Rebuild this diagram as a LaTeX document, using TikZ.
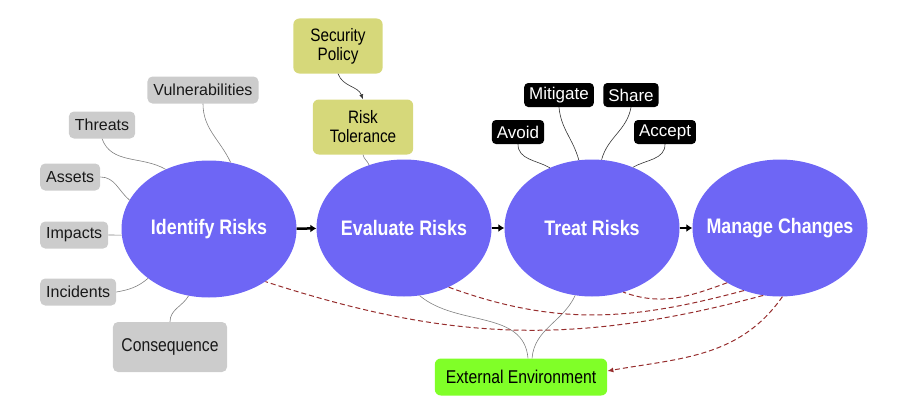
\documentclass[tikz,border=0pt]{standalone}
\usepackage{fontspec}
\setmainfont{Liberation Sans}
\newfontfamily\condfont{Liberation Sans}[FakeStretch=0.85]
\usetikzlibrary{shapes.geometric,arrows.meta}
\definecolor{riskblue}{RGB}{110,102,245}
\definecolor{boxgray}{RGB}{204,204,204}
\definecolor{polyellow}{RGB}{214,216,122}
\definecolor{envgreen}{RGB}{128,255,40}
\definecolor{linkred}{RGB}{150,45,45}

\begin{document}
\begin{tikzpicture}[x=1pt, y=1pt,
    stage/.style={ellipse, fill=riskblue, minimum width=175pt, minimum height=137pt, inner xsep=-20pt, inner ysep=0pt,
        text=white, font=\condfont\bfseries\fontsize{21}{23}\selectfont},
    factor/.style={rounded corners=5pt, fill=boxgray, inner xsep=6pt, minimum height=27pt,
        text=black!90, font=\fontsize{16}{18}\selectfont},
    policy/.style={rounded corners=6pt, fill=polyellow, align=center, inner xsep=17pt, minimum height=55pt,
        font=\condfont\fontsize{18}{19}\selectfont},
    choice/.style={rounded corners=4pt, fill=black, text=white, inner xsep=5pt, minimum height=24pt,
        font=\fontsize{17}{19}\selectfont},
    link/.style={black!50, line width=0.6pt},
    feedback/.style={linkred, line width=1pt, dash pattern=on 5pt off 3pt},
    flow/.style={line width=2.5pt, -{Latex[length=6pt,width=8pt]}}]
    \useasboundingbox (0,0) rectangle (901,408);

    \node[stage] (identify) at (209,179) {Identify Risks};
    \node[stage] (evaluate) at (404,180) {Evaluate Risks};
    \node[stage] (treat) at (592,180) {Treat Risks};
    \node[stage] (manage) at (780,180) {Manage Changes};

    \node[factor] (vuln) at (203,318) {Vulnerabilities};
    \node[factor] (threats) at (102,283) {Threats};
    \node[factor, anchor=west] (assets) at (40,231) {Assets};
    \node[factor, anchor=west] (impacts) at (40,173) {Impacts};
    \node[factor, anchor=west] (incidents) at (40,116) {Incidents};
    \node[factor, minimum height=50pt, inner xsep=8.5pt, font=\condfont\fontsize{18.5}{20}\selectfont]
        (conseq) at (170,61) {Consequence};

    \node[policy] (secpol) at (338,362) {Security\\Policy};
    \node[policy] (risktol) at (363,281) {Risk\\Tolerance};

    \node[choice] (avoid) at (518,276) {Avoid};
    \node[choice] (mitigate) at (559,313) {Mitigate};
    \node[choice] (share) at (631,313) {Share};
    \node[choice] (accept) at (665,276) {Accept};

    \node[rounded corners=6pt, fill=envgreen, inner xsep=11pt, minimum height=37pt,
        font=\condfont\fontsize{18.5}{20}\selectfont] (extenv) at (521,31) {External Environment};

    \draw[flow] (identify) -- (evaluate);
    \draw[flow] (evaluate) -- (treat);
    \draw[flow] (treat) -- (manage);

    \draw[link] (vuln.south) to[out=-90,in=115] (identify.72);
    \draw[link] (threats.south) to[out=-70,in=150] (identify.126);
    \draw[link] (assets.east) to[out=0,in=140] (identify.160);
    \draw[link] (impacts.east) -- (identify.184);
    \draw[link] (incidents.east) to[out=10,in=-140] (identify.219);
    \draw[link] (conseq.north) to[out=90,in=-120] (identify.253);

    \draw[link, black!80, -{Latex[length=5pt,width=4pt]}] (secpol.south) to[out=-70,in=110] (risktol.north);
    \draw[link] (risktol.south) to[out=-80,in=110] (evaluate.119);

    \draw[link, black!80] (avoid.south) to[out=-90,in=150] (treat.125);
    \draw[link, black!80] (mitigate.south) to[out=-85,in=105] (treat.101);
    \draw[link, black!80] (share.south) to[out=-100,in=75] (treat.82);
    \draw[link, black!80] (accept.south) to[out=-90,in=30] (treat.56);

    \draw[link] (evaluate.283) to[out=-40,in=95] ([xshift=7pt]extenv.north);
    \draw[link] (treat.256) to[out=-115,in=85] ([xshift=11pt]extenv.north);

    \draw[feedback] (manage.226) to[out=200,in=-20] (treat.296);
    \draw[feedback] (manage.240) to[out=195,in=-20] (evaluate.307);
    \draw[feedback] (manage.256) to[out=195,in=-18] (identify.317);
    \draw[feedback, -{Latex[length=6pt,width=5pt]}] (manage.272) to[out=235,in=10] ([yshift=6pt]extenv.east);
\end{tikzpicture}
\end{document}
